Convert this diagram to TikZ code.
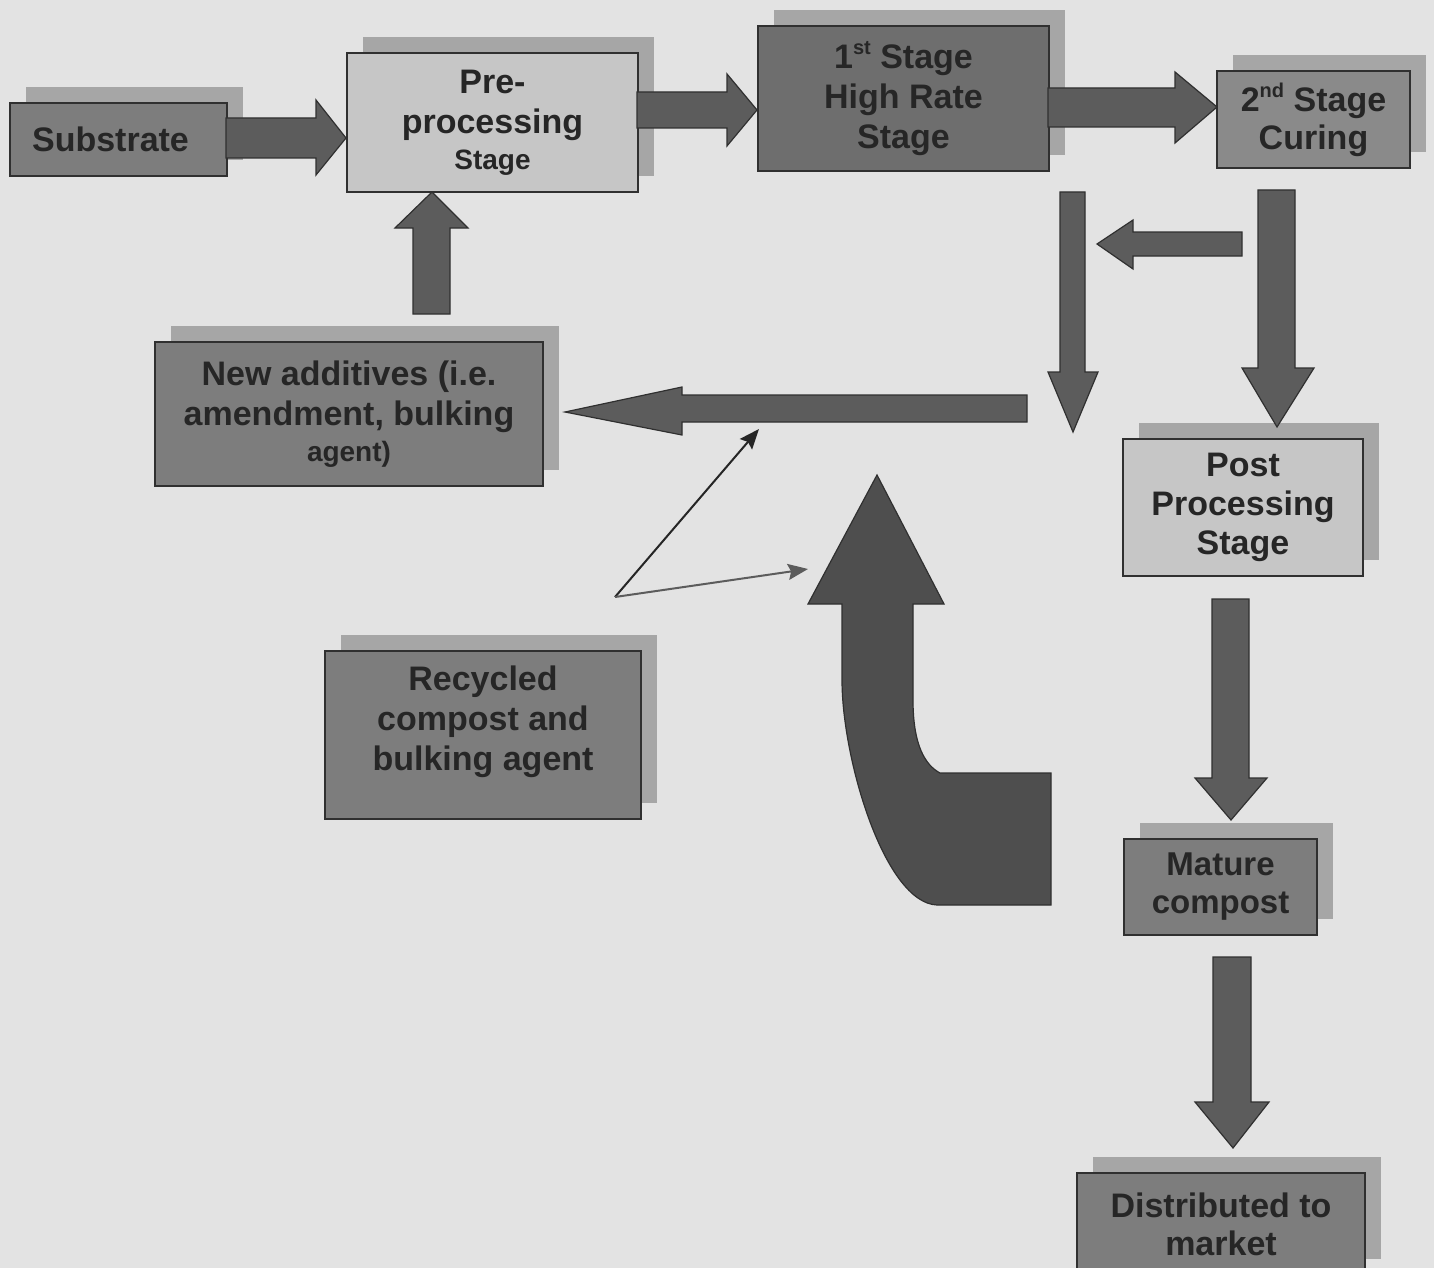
\documentclass[tikz,border=0pt]{standalone}
\usepackage{fontspec}
\setmainfont{Liberation Sans}
\usetikzlibrary{shadows,arrows.meta}
\definecolor{bg}{HTML}{E3E3E3}
\definecolor{shadowc}{HTML}{A6A6A6}
\definecolor{boxline}{HTML}{303030}
\definecolor{txt}{HTML}{262626}
\definecolor{arrc}{HTML}{5C5C5C}
\definecolor{curvc}{HTML}{4E4E4E}
\definecolor{gA}{HTML}{7D7D7D}
\definecolor{gLight}{HTML}{C6C6C6}
\definecolor{gDark}{HTML}{6E6E6E}
\definecolor{gMid}{HTML}{8A8A8A}
\begin{document}
\begin{tikzpicture}[x=1pt,y=-1pt,
  box/.style={draw=boxline, line width=2pt, anchor=north west, inner sep=0pt,
    align=center, text=txt, font=\fontsize{34}{40}\selectfont\bfseries,
    general shadow={fill=shadowc, shadow xshift=16pt, shadow yshift=16pt}},
  barrow/.style={fill=arrc, draw=boxline, line width=1.2pt, line join=miter},
  thinarr/.style={line width=2pt, draw=txt, -{Stealth[length=20pt,width=16pt,inset=3pt]}}]
\clip (0,0) rectangle (1434,1268);
\fill[bg] (0,0) rectangle (1434,1268);

% boxes
\node[box, fill=gA, minimum width=217, minimum height=73] (sub) at (9,102) {Substrate\hspace*{16pt}};
\node[box, fill=gLight, minimum width=291, minimum height=139] (pre) at (346,52)
  {Pre-\\processing\\[-4pt]{\fontsize{28}{32}\selectfont Stage}};
\node[box, fill=gDark, minimum width=291, minimum height=145] (first) at (757,25)
  {1\raisebox{0.42em}{\fontsize{20}{20}\selectfont st} Stage\\High Rate\\Stage};
\node[box, fill=gMid, minimum width=193, minimum height=97, font=\fontsize{34}{38}\selectfont\bfseries] (second) at (1216,70)
  {2\raisebox{0.42em}{\fontsize{20}{20}\selectfont nd} Stage\\Curing};
\node[box, fill=gA, minimum width=388, minimum height=144] (newadd) at (154,341)
  {New additives (i.e.\\amendment, bulking\\[-4pt]{\fontsize{28}{32}\selectfont agent)}};
\node[box, fill=gA, minimum width=316, minimum height=168] (recyc) at (324,650)
  {Recycled\\compost and\\bulking agent\\[-6pt]};
\node[box, fill=gLight, minimum width=240, minimum height=137, font=\fontsize{34}{39}\selectfont\bfseries] (post) at (1122,438)
  {Post\\Processing\\Stage};
\node[box, fill=gA, minimum width=193, minimum height=96, font=\fontsize{33}{38}\selectfont\bfseries] (mature) at (1123,838)
  {Mature\\compost};
\node[box, fill=gA, minimum width=288, minimum height=102, font=\fontsize{34}{38}\selectfont\bfseries] (dist) at (1076,1172)
  {Distributed to\\market};

% block arrows
\draw[barrow] (226,118) -- (316,118) -- (316,100) -- (346,138) -- (316,175) -- (316,158) -- (226,158) -- cycle;
\draw[barrow] (637,92) -- (727,92) -- (727,74) -- (757,110) -- (727,146) -- (727,128) -- (637,128) -- cycle;
\draw[barrow] (1048,88) -- (1175,88) -- (1175,72) -- (1217,107) -- (1175,143) -- (1175,127) -- (1048,127) -- cycle;
\draw[barrow] (413,314) -- (413,228) -- (395,228) -- (432,192) -- (468,228) -- (450,228) -- (450,314) -- cycle;
\draw[barrow] (1027,395) -- (682,395) -- (682,387) -- (565,412) -- (682,435) -- (682,422) -- (1027,422) -- cycle;
\draw[barrow] (1060,192) -- (1060,372) -- (1048,372) -- (1073,432) -- (1098,372) -- (1085,372) -- (1085,192) -- cycle;
\draw[barrow] (1242,232) -- (1133,232) -- (1133,220) -- (1097,244) -- (1133,269) -- (1133,256) -- (1242,256) -- cycle;
\draw[barrow] (1258,190) -- (1258,368) -- (1242,368) -- (1277,427) -- (1314,368) -- (1295,368) -- (1295,190) -- cycle;
\draw[barrow] (1212,599) -- (1212,778) -- (1195,778) -- (1231,820) -- (1267,778) -- (1249,778) -- (1249,599) -- cycle;
\draw[barrow] (1213,957) -- (1213,1102) -- (1195,1102) -- (1233,1148) -- (1269,1102) -- (1251,1102) -- (1251,957) -- cycle;

% curved return arrow
\draw[barrow, fill=curvc] (877,475) -- (944,604) -- (913,604) -- (913,700)
  .. controls (913,745) and (925,765) .. (940,773) -- (1051,773) -- (1051,905) -- (937,905)
  .. controls (885,903) and (842,760) .. (842,680) -- (842,604) -- (808,604) -- cycle;

% thin arrows
\coordinate (src) at (615,597);
\coordinate (t1) at (759,429);
\coordinate (t2) at (808,569);
\draw[thinarr] (src) -- (t1);
\draw[thinarr, draw=txt!75] (src) -- (t2);
\end{tikzpicture}
\end{document}
